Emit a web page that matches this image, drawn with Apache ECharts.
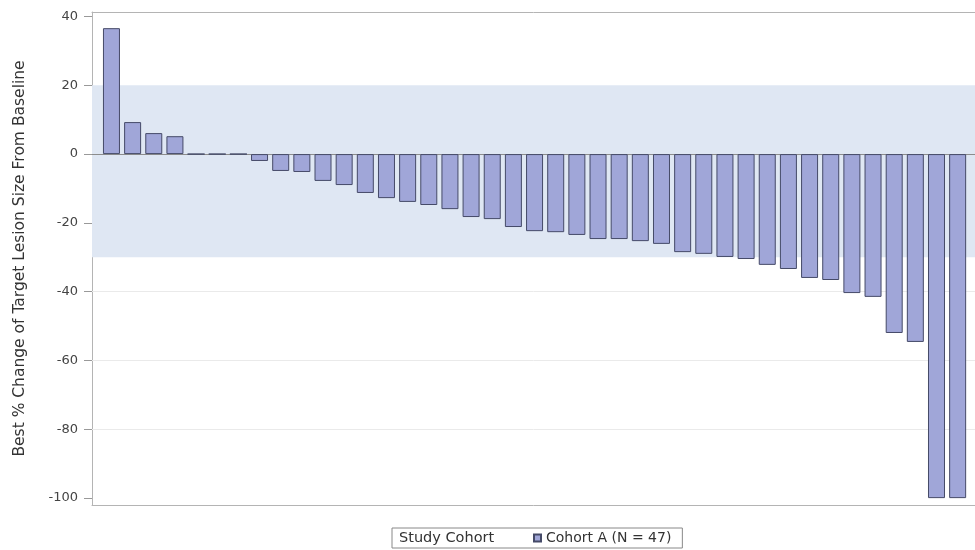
<!DOCTYPE html>
<html>
<head>
<meta charset="utf-8">
<script src="https://cdn.jsdelivr.net/npm/echarts@6/dist/echarts.min.js"></script>
<style>
  html, body { margin: 0; padding: 0; background: #fff; }
  #chart { width: 975px; height: 550px; }
</style>
</head>
<body>
<div id="chart"></div>
<script>
// best % change per patient, in waterfall order
var changes = [36.6, 9.3, 6.1, 5.2, 0, 0, 0,
  -2.0, -4.9, -5.2, -7.8, -9.0, -11.3, -12.8, -13.9, -14.8, -16.0, -18.3, -18.9, -21.2, -22.4,
  -22.7, -23.5, -24.7, -24.7, -25.3, -26.1, -28.5, -29.0, -29.9, -30.5,
  -32.2, -33.4, -36.0, -36.6, -40.4, -41.5, -52.0, -54.6, -100, -100];
var yTicks = [-100, -80, -60, -40, -20, 0, 20, 40];
var band = [-30, 20];
var gridLevels = [-40, -60, -80];
var seriesName = 'Cohort A (N = 47)';
var legendTitle = 'Study Cohort';

var font = 'DejaVu Sans, Verdana, sans-serif';
var frameColor = '#b4b4b4';

var chartDom = document.getElementById('chart');
var myChart = echarts.init(chartDom);

var barData = changes.map(function (v, i) { return [i, v]; });

// reference lines and shaded band go on an empty series underneath the bars
var refLines = gridLevels.map(function (v) {
  return { yAxis: v, lineStyle: { color: '#eaeaea', type: 'solid', width: 1 } };
});
refLines.push({ yAxis: 0, lineStyle: { color: '#8c8c8c', type: 'solid', width: 1 } });

var xBase = {
  type: 'value',
  min: -0.92,
  max: 40.82,
  axisLine: { show: true, onZero: false, lineStyle: { color: frameColor } },
  axisTick: { show: false },
  axisLabel: { show: false },
  splitLine: { show: false }
};

var option = {
  animation: false,
  textStyle: { fontFamily: font },
  grid: { left: 92, right: 0, top: 12, bottom: 45 },
  xAxis: [
    Object.assign({ position: 'bottom' }, xBase),
    Object.assign({ position: 'top' }, xBase)
  ],
  yAxis: {
    type: 'value',
    min: -102,
    max: 41.3,
    name: 'Best % Change of Target Lesion Size From Baseline',
    nameLocation: 'middle',
    nameRotate: 90,
    nameGap: 64,
    nameTextStyle: { fontSize: 15.5, color: '#333', fontFamily: font },
    axisLine: { show: true, onZero: false, lineStyle: { color: frameColor } },
    axisTick: { show: true, length: 8, customValues: yTicks, lineStyle: { color: '#999' } },
    axisLabel: { customValues: yTicks, fontSize: 13, color: '#444', margin: 14, fontFamily: font },
    splitLine: { show: false }
  },
  legend: {
    data: [seriesName],
    left: 392,
    bottom: 2,
    padding: [3, 11, 3, 141],
    borderColor: '#888',
    borderWidth: 1,
    itemWidth: 7,
    itemHeight: 7,
    itemGap: 6,
    icon: 'rect',
    textStyle: { fontSize: 14, color: '#333', fontFamily: font }
  },
  graphic: [{
    type: 'text',
    left: 399,
    bottom: 4,
    style: { text: legendTitle, fontSize: 14.5, fill: '#333', fontFamily: font }
  }],
  series: [
    {
      name: 'ref',
      type: 'line',
      data: [],
      z: 1,
      markArea: {
        silent: true,
        z: 1,
        itemStyle: { color: '#dfe7f3' },
        data: [[{ yAxis: band[0] }, { yAxis: band[1] }]]
      },
      markLine: {
        silent: true,
        z: 2,
        symbol: 'none',
        label: { show: false },
        data: refLines
      }
    },
    {
      name: seriesName,
      type: 'bar',
      barWidth: 17,
      data: barData,
      itemStyle: { color: '#a0a6d8', borderColor: '#454a68', borderWidth: 1 },
      z: 3
    }
  ]
};

option && myChart.setOption(option);
</script>
</body>
</html>
